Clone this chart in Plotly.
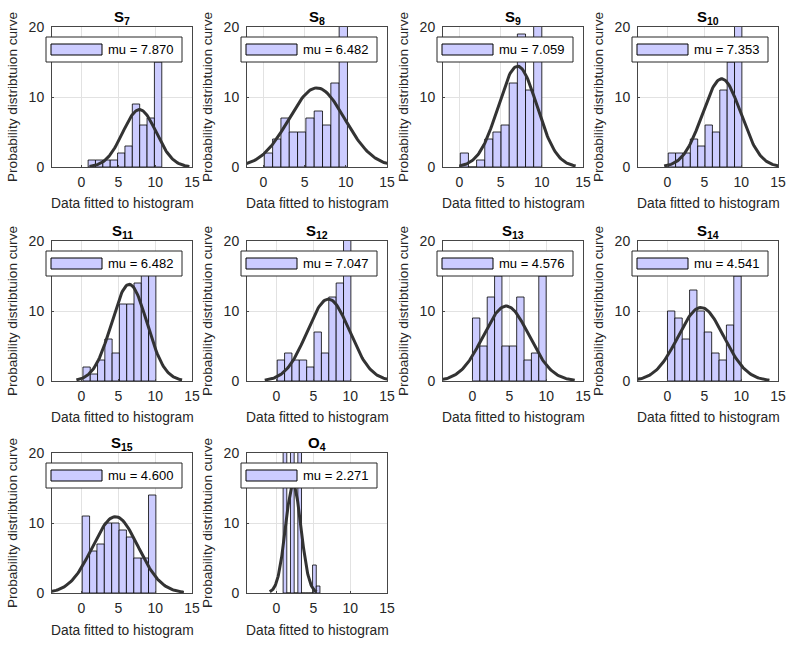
import numpy as np
import plotly.graph_objects as go

# ---------------- data ----------------
names = ["S", "S", "S", "S", "S", "S", "S", "S", "S", "O"]
subs = ["7", "8", "9", "10", "11", "12", "13", "14", "15", "4"]
mu_vals = [7.870, 6.482, 7.059, 7.353, 6.482, 7.047, 4.576, 4.541, 4.600, 2.271]
sigma_vals = [2.26, 3.4, 2.35, 2.6, 2.39, 2.88, 3.1, 3.1, 3.1, 1.06]
peak_vals = [8.2, 11.3, 14.4, 12.6, 13.8, 11.7, 10.7, 10.5, 10.9, 15.4]
bin_start = [0.9, 0.1, 0.1, 0.1, 0.2, 0.1, 0.0, 0.0, 0.1, 0.9]
bin_width = [1.0, 1.01, 0.99, 1.0, 0.99, 1.0, 1.0, 1.0, 1.0, 0.5]
counts = [
    [1, 1, 1, 1, 2, 3, 9, 6, 7, 15],
    [2, 4, 7, 5, 5, 7, 8, 6, 12, 40],
    [2, 0, 1, 4, 5, 6, 12, 19, 11, 25],
    [2, 2, 2, 4, 3, 6, 5, 11, 15, 32],
    [2, 1, 3, 6, 4, 11, 11, 14, 16, 16],
    [3, 4, 3, 3, 2, 7, 4, 12, 14, 32],
    [9, 5, 12, 15, 5, 5, 12, 3, 4, 15],
    [10, 9, 6, 13, 10, 7, 4, 3, 8, 15],
    [11, 6, 7, 10, 10, 9, 8, 5, 5, 14],
    [25, 0, 27, 0, 25, 0, 0, 0, 4, 1],
]
x_low = [-4, -2, -2, -4, -4, -4, -4, -4, -4, -4]
x_high = 15
x_ticks = [0, 5, 10, 15]
y_ticks = [0, 10, 20]
x_title = "Data fitted to histogram"
y_title = "Probability distribtuion curve"

# ---------------- layout geometry ----------------
W, H = 789, 647
col_left = [52, 247, 443, 638]
row_top = [27, 241, 453]
AW, AH = 140, 140
FONT = "Liberation Sans, Arial, Helvetica, sans-serif"
BAR_FILL = "rgb(204,204,255)"
CURVE = "rgb(51,51,51)"
AX = "rgb(70,70,70)"
GRID = "rgb(226,226,226)"
TXT = "rgb(38,38,38)"


def px(x):
    return x / W


def py(y):
    return 1 - y / H


fig = go.Figure()
shapes = []
annotations = []

for i in range(10):
    r, c = divmod(i, 4)
    L = col_left[c]
    T = row_top[r]
    xa = "x" if i == 0 else f"x{i+1}"
    ya = "y" if i == 0 else f"y{i+1}"
    xkey = "xaxis" if i == 0 else f"xaxis{i+1}"
    ykey = "yaxis" if i == 0 else f"yaxis{i+1}"

    bw = bin_width[i]
    centers = [bin_start[i] + bw * (k + 0.5) for k in range(len(counts[i]))]
    fig.add_trace(go.Bar(
        x=centers, y=counts[i], width=[bw] * len(centers),
        marker=dict(color=BAR_FILL, line=dict(color="black", width=0.8)),
        xaxis=xa, yaxis=ya, showlegend=False, hoverinfo="skip",
    ))
    mu, sg, pk = mu_vals[i], sigma_vals[i], peak_vals[i]
    xs = np.linspace(mu - 3 * sg, mu + 3 * sg, 120)
    ys = pk * np.exp(-0.5 * ((xs - mu) / sg) ** 2)
    fig.add_trace(go.Scatter(
        x=xs, y=ys, mode="lines", line=dict(color=CURVE, width=3),
        xaxis=xa, yaxis=ya, showlegend=False, hoverinfo="skip",
    ))

    fig.layout[xkey] = dict(
        domain=[px(L), px(L + AW)], anchor=ya, range=[x_low[i], x_high],
        tickvals=x_ticks, showgrid=True, gridcolor=GRID, gridwidth=1,
        showline=True, linecolor=AX, linewidth=1, mirror=True,
        ticks="inside", ticklen=2, tickcolor=AX, zeroline=False,
        tickfont=dict(family=FONT, size=14, color=TXT),
        ticklabelstandoff=2, fixedrange=True, automargin=False,
    )
    fig.layout[ykey] = dict(
        domain=[py(T + AH), py(T)], anchor=xa, range=[0, 20],
        tickvals=y_ticks, showgrid=True, gridcolor=GRID, gridwidth=1,
        showline=True, linecolor=AX, linewidth=1, mirror=True,
        ticks="inside", ticklen=2, tickcolor=AX, zeroline=False,
        tickfont=dict(family=FONT, size=14, color=TXT),
        ticklabelstandoff=4, fixedrange=True, automargin=False,
    )

    # title
    annotations.append(dict(
        x=px(L + AW / 2), y=py(T + 2), xref="paper", yref="paper",
        xanchor="center", yanchor="bottom", showarrow=False,
        text=f"<b>{names[i]}<sub>{subs[i]}</sub></b>",
        font=dict(family=FONT, size=15, color="black"),
    ))
    # x title
    annotations.append(dict(
        x=px(L + AW / 2), y=py(T + AH + 37), xref="paper", yref="paper",
        xanchor="center", yanchor="middle", showarrow=False, text=x_title,
        font=dict(family=FONT, size=13.8, color=TXT),
    ))
    # y title
    annotations.append(dict(
        x=px(L - 40), y=py(T + AH / 2), xref="paper", yref="paper",
        xanchor="center", yanchor="middle", showarrow=False, text=y_title,
        textangle=-90, font=dict(family=FONT, size=13.6, color=TXT),
    ))
    # legend box
    shapes.append(dict(
        type="rect", xref="paper", yref="paper", layer="above",
        x0=px(L - 6), x1=px(L + 130), y0=py(T + 35), y1=py(T + 10),
        fillcolor="white", line=dict(color=TXT, width=1),
    ))
    shapes.append(dict(
        type="rect", xref="paper", yref="paper", layer="above",
        x0=px(L - 1), x1=px(L + 50), y0=py(T + 28), y1=py(T + 17),
        fillcolor=BAR_FILL, line=dict(color="black", width=1),
    ))
    annotations.append(dict(
        x=px(L + 54), y=py(T + 22.5), xref="paper", yref="paper",
        xanchor="left", yanchor="middle", showarrow=False,
        text=f"mu = {mu_vals[i]:.3f}",
        font=dict(family=FONT, size=13, color="black"),
    ))

fig.update_layout(
    width=W, height=H, autosize=False,
    margin=dict(l=0, r=0, t=0, b=0),
    paper_bgcolor="white", plot_bgcolor="white",
    bargap=0, shapes=shapes, annotations=annotations,
    showlegend=False,
)

fig.write_html(
    "out.html",
    config={"displayModeBar": False, "staticPlot": True},
    post_script="document.body.style.margin='0';document.body.style.overflow='hidden';",
)
